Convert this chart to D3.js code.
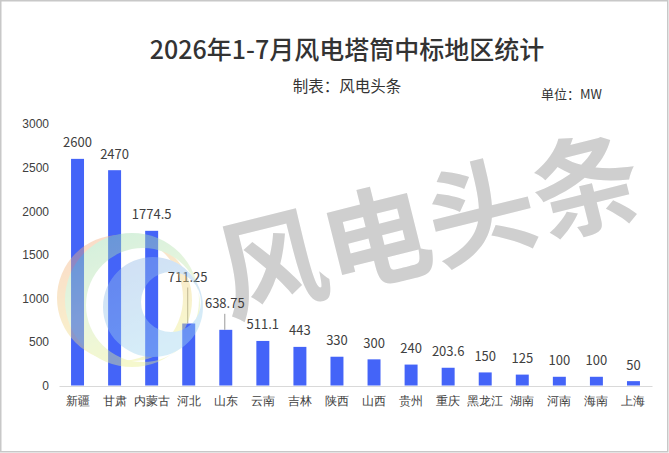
<!DOCTYPE html>
<html lang="zh">
<head>
    <meta charset="UTF-8">
    <title>2026年1-7月风电塔筒中标地区统计</title>
    <script src="https://d3js.org/d3.v7.min.js"></script>
    <style>
        body { margin: 0; overflow: hidden; background: #fff; font-family: "Noto Sans CJK SC", "Noto Sans", sans-serif; }
        svg { display: block; }
        .tick text { font-size: 12px; fill: #404040; }
    </style>
</head>
<body>
    <svg id="chart"></svg>
    <script>
        const regions = ["新疆", "甘肃", "内蒙古", "河北", "山东", "云南", "吉林", "陕西",
                         "山西", "贵州", "重庆", "黑龙江", "湖南", "河南", "海南", "上海"];
        const capacity = [2600, 2470, 1774.5, 711.25, 638.75, 511.1, 443, 330,
                          300, 240, 203.6, 150, 125, 100, 100, 50];
        const yTicks = [0, 500, 1000, 1500, 2000, 2500, 3000];

        const width = 669, height = 453;
        const svg = d3.select("#chart").attr("width", width).attr("height", height);

        // frame
        svg.append("rect")
            .attr("x", 0.75).attr("y", 0.75)
            .attr("width", 667).attr("height", 451)
            .attr("fill", "#fff").attr("stroke", "#c8c8c8").attr("stroke-width", 1.5);

        // watermark text
        svg.append("text")
            .attr("transform", "translate(427,218) rotate(-14)")
            .attr("text-anchor", "middle")
            .attr("dominant-baseline", "central")
            .attr("font-size", 108)
            .attr("font-weight", "bold")
            .attr("fill", "#cfcfcf")
            .text("风电头条");

        const x = d3.scaleBand()
            .domain(regions)
            .range([59, 652])
            .paddingInner(0.65)
            .paddingOuter(0.325);

        const y = d3.scaleLinear()
            .domain([0, 3000])
            .range([385.5, 124]);

        // y axis (labels only)
        const yAxis = svg.append("g")
            .attr("transform", "translate(49,0)")
            .call(d3.axisLeft(y).tickValues(yTicks).tickFormat(d3.format("d")).tickSize(0).tickPadding(0));
        yAxis.select(".domain").remove();

        // bars
        svg.append("g").selectAll("rect")
            .data(capacity)
            .join("rect")
            .attr("x", (d, i) => x(regions[i]))
            .attr("y", d => y(d))
            .attr("width", x.bandwidth())
            .attr("height", d => y(0) - y(d))
            .attr("fill", "#4464f8");

        // baseline + category labels
        const xAxis = svg.append("g")
            .attr("transform", `translate(0,${y(0) + 0.5})`)
            .call(d3.axisBottom(x).tickSize(0).tickPadding(10));
        xAxis.select(".domain").attr("stroke", "#d9d9d9").attr("stroke-width", 1.2);

        // labels that were pushed up to avoid overlap get a leader line
        const lift = { "河北": 30, "山东": 10 };

        const labels = svg.append("g");
        capacity.forEach((v, i) => {
            const cx = x(regions[i]) + x.bandwidth() / 2;
            const extra = lift[regions[i]] || 0;
            const ly = y(v) - 17 - extra;
            if (extra) {
                labels.append("line")
                    .attr("x1", cx - 1).attr("x2", cx - 1)
                    .attr("y1", ly + 11).attr("y2", y(v))
                    .attr("stroke", "#9a9a9a").attr("stroke-width", 1);
            }
            labels.append("text")
                .attr("x", cx - (extra ? 1 : 0))
                .attr("y", ly)
                .attr("text-anchor", "middle")
                .attr("dominant-baseline", "central")
                .attr("font-size", 13)
                .attr("fill", "#404040")
                .text(v);
        });

        // logo watermark, drawn over the bars
        const defs = svg.append("defs");
        const grad = (id, stops) => {
            const g = defs.append("linearGradient").attr("id", id)
                .attr("x1", 0).attr("y1", 0).attr("x2", 0.4).attr("y2", 1);
            stops.forEach(s => g.append("stop").attr("offset", s[0]).attr("stop-color", s[1]));
        };
        grad("gOrange", [[0, "#f6a57c"], [1, "#eef08a"]]);
        grad("gGreen", [[0, "#8fd8ae"], [0.6, "#cdeab0"], [1, "#e9f08a"]]);
        grad("gBlue", [[0, "#8fb3e6"], [1, "#9fd6f0"]]);

        const ring = (cx, cy, r, ix, iy, ir) =>
            `M${cx - r},${cy}a${r},${r} 0 1,0 ${2 * r},0a${r},${r} 0 1,0 ${-2 * r},0Z` +
            `M${ix - ir},${iy}a${ir},${ir} 0 1,0 ${2 * ir},0a${ir},${ir} 0 1,0 ${-2 * ir},0Z`;

        const logo = svg.append("g").attr("opacity", 0.42);
        logo.append("path").attr("fill-rule", "evenodd").attr("fill", "url(#gOrange)")
            .attr("d", ring(120, 298, 63, 131, 300, 61));
        logo.append("path").attr("fill-rule", "evenodd").attr("fill", "url(#gGreen)")
            .attr("d", ring(132, 300, 67, 143, 305, 57));
        logo.append("path").attr("fill-rule", "evenodd").attr("fill", "url(#gBlue)")
            .attr("d", ring(153, 307, 50, 171, 302, 30));

        // titles
        svg.append("text")
            .attr("x", 347).attr("y", 48)
            .attr("text-anchor", "middle").attr("dominant-baseline", "central")
            .attr("font-size", 25).attr("font-weight", 500).attr("fill", "#333")
            .text("2026年1-7月风电塔筒中标地区统计");

        svg.append("text")
            .attr("x", 347).attr("y", 85)
            .attr("text-anchor", "middle").attr("dominant-baseline", "central")
            .attr("font-size", 15.5).attr("fill", "#333")
            .text("制表：风电头条");

        svg.append("text")
            .attr("x", 541).attr("y", 93)
            .attr("dominant-baseline", "central")
            .attr("font-size", 13).attr("fill", "#333")
            .text("单位：MW");
    </script>
</body>
</html>
